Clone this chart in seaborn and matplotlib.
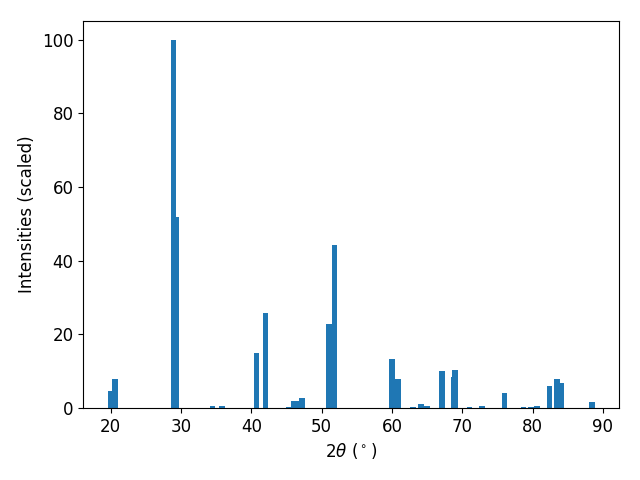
import matplotlib
matplotlib.use("Agg")
import matplotlib.pyplot as plt
import seaborn as sns
import numpy as np

# posiciones de los picos (2theta) e intensidades escaladas
two_theta = [19.97, 20.6, 28.92, 29.35, 34.5, 35.8, 40.74, 42.0,
             45.28, 46.1, 46.7, 47.25, 51.08, 51.84, 60.03, 60.9,
             63.0, 64.1, 65.0, 67.1, 68.8, 69.0, 71.0, 72.8,
             76.0, 78.7, 79.8, 80.6, 82.4, 83.45, 84.0, 88.4]
intensity = [4.6, 7.9, 100.0, 51.8, 0.5, 0.5, 14.85, 25.7,
             0.3, 2.0, 1.8, 2.6, 22.75, 44.2, 13.2, 8.0,
             0.3, 1.0, 0.5, 10.0, 8.3, 10.2, 0.3, 0.5,
             4.2, 0.3, 0.3, 0.5, 6.1, 8.0, 6.7, 1.5]

plt.rcParams["font.size"] = 12
plt.rcParams["font.family"] = ["DejaVu Sans"]

fig, ax = plt.subplots(figsize=(6.4, 4.8), dpi=100)
ax.bar(two_theta, intensity, width=0.8, color=sns.color_palette("tab10")[0])
ax.set_xlabel(r"$2\theta$ ($^\circ$)")
ax.set_ylabel("Intensities (scaled)")
fig.subplots_adjust(left=0.13, right=0.967, top=0.956, bottom=0.15)
fig.savefig("out.png", dpi=100)
